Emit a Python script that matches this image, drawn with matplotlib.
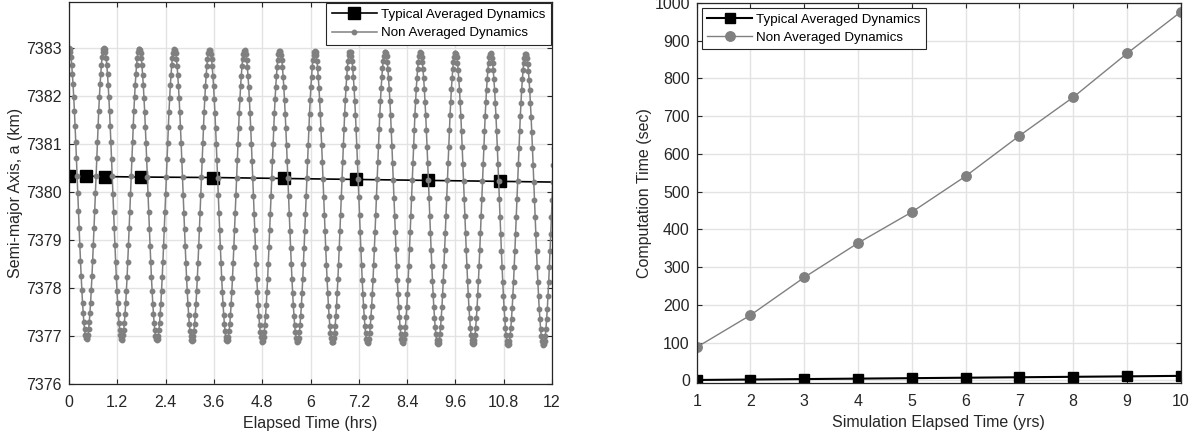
import matplotlib.pyplot as plt
import numpy as np

# MATLAB-like look: Helvetica -> Liberation Sans
plt.rcParams['font.family'] = ['Liberation Sans', 'DejaVu Sans']

# ---- left panel: semi-major axis over 12 hours ----
# non averaged (osculating) samples, one every ~60 s, one row per oscillation
step_hrs = 0.016785
a_non_avg = [
    7383.00, 7382.98, 7382.91, 7382.80, 7382.65, 7382.46, 7382.24, 7381.98, 7381.69, 7381.38, 7381.04, 7380.70, 7380.34,
    7379.97, 7379.60, 7379.25, 7378.90, 7378.56, 7378.25, 7377.96, 7377.70, 7377.48, 7377.29, 7377.14, 7377.03, 7376.96,
    7376.94, 7376.96, 7377.03, 7377.14, 7377.29, 7377.48, 7377.70, 7377.96, 7378.25, 7378.56, 7378.90, 7379.25, 7379.60,
    7379.97, 7380.34, 7380.70, 7381.04, 7381.38, 7381.69, 7381.98, 7382.24, 7382.46, 7382.65, 7382.80, 7382.91, 7382.98,
    7382.99, 7382.97, 7382.90, 7382.79, 7382.64, 7382.45, 7382.23, 7381.97, 7381.68, 7381.37, 7381.03, 7380.69, 7380.33,
    7379.96, 7379.59, 7379.24, 7378.89, 7378.55, 7378.24, 7377.95, 7377.69, 7377.47, 7377.28, 7377.13, 7377.02, 7376.95,
    7376.93, 7376.95, 7377.02, 7377.13, 7377.28, 7377.47, 7377.69, 7377.95, 7378.24, 7378.55, 7378.89, 7379.24, 7379.59,
    7379.96, 7380.33, 7380.69, 7381.03, 7381.37, 7381.68, 7381.97, 7382.23, 7382.45, 7382.64, 7382.79, 7382.90, 7382.97,
    7382.98, 7382.96, 7382.89, 7382.78, 7382.63, 7382.44, 7382.22, 7381.96, 7381.67, 7381.36, 7381.02, 7380.68, 7380.32,
    7379.95, 7379.58, 7379.23, 7378.88, 7378.54, 7378.23, 7377.94, 7377.68, 7377.46, 7377.27, 7377.12, 7377.01, 7376.94,
    7376.92, 7376.94, 7377.01, 7377.12, 7377.27, 7377.46, 7377.68, 7377.94, 7378.23, 7378.54, 7378.88, 7379.23, 7379.58,
    7379.95, 7380.32, 7380.68, 7381.02, 7381.36, 7381.67, 7381.96, 7382.22, 7382.44, 7382.63, 7382.78, 7382.89, 7382.96,
    7382.97, 7382.95, 7382.88, 7382.77, 7382.62, 7382.43, 7382.21, 7381.95, 7381.66, 7381.35, 7381.01, 7380.67, 7380.31,
    7379.94, 7379.57, 7379.22, 7378.87, 7378.53, 7378.22, 7377.93, 7377.67, 7377.45, 7377.26, 7377.11, 7377.00, 7376.93,
    7376.91, 7376.93, 7377.00, 7377.11, 7377.26, 7377.45, 7377.67, 7377.93, 7378.22, 7378.53, 7378.87, 7379.22, 7379.57,
    7379.94, 7380.31, 7380.67, 7381.01, 7381.35, 7381.66, 7381.95, 7382.21, 7382.43, 7382.62, 7382.77, 7382.88, 7382.95,
    7382.96, 7382.94, 7382.87, 7382.76, 7382.61, 7382.42, 7382.20, 7381.94, 7381.65, 7381.34, 7381.00, 7380.66, 7380.30,
    7379.93, 7379.56, 7379.21, 7378.86, 7378.52, 7378.21, 7377.92, 7377.66, 7377.44, 7377.25, 7377.10, 7376.99, 7376.92,
    7376.90, 7376.92, 7376.99, 7377.10, 7377.25, 7377.44, 7377.66, 7377.92, 7378.21, 7378.52, 7378.86, 7379.21, 7379.56,
    7379.93, 7380.30, 7380.66, 7381.00, 7381.34, 7381.65, 7381.94, 7382.20, 7382.42, 7382.61, 7382.76, 7382.87, 7382.94,
    7382.95, 7382.93, 7382.86, 7382.75, 7382.60, 7382.41, 7382.19, 7381.93, 7381.64, 7381.33, 7380.99, 7380.65, 7380.29,
    7379.92, 7379.55, 7379.20, 7378.85, 7378.51, 7378.20, 7377.91, 7377.65, 7377.43, 7377.24, 7377.09, 7376.98, 7376.91,
    7376.89, 7376.91, 7376.98, 7377.09, 7377.24, 7377.43, 7377.65, 7377.91, 7378.20, 7378.51, 7378.85, 7379.20, 7379.55,
    7379.92, 7380.29, 7380.65, 7380.99, 7381.33, 7381.64, 7381.93, 7382.19, 7382.41, 7382.60, 7382.75, 7382.86, 7382.93,
    7382.94, 7382.92, 7382.85, 7382.74, 7382.59, 7382.40, 7382.18, 7381.92, 7381.63, 7381.32, 7380.98, 7380.64, 7380.28,
    7379.91, 7379.54, 7379.19, 7378.84, 7378.50, 7378.19, 7377.90, 7377.64, 7377.42, 7377.23, 7377.08, 7376.97, 7376.90,
    7376.88, 7376.90, 7376.97, 7377.08, 7377.23, 7377.42, 7377.64, 7377.90, 7378.19, 7378.50, 7378.84, 7379.19, 7379.54,
    7379.91, 7380.28, 7380.64, 7380.98, 7381.32, 7381.63, 7381.92, 7382.18, 7382.40, 7382.59, 7382.74, 7382.85, 7382.92,
    7382.93, 7382.91, 7382.84, 7382.73, 7382.58, 7382.39, 7382.17, 7381.91, 7381.62, 7381.31, 7380.97, 7380.63, 7380.27,
    7379.90, 7379.53, 7379.18, 7378.83, 7378.49, 7378.18, 7377.89, 7377.63, 7377.41, 7377.22, 7377.07, 7376.96, 7376.89,
    7376.87, 7376.89, 7376.96, 7377.07, 7377.22, 7377.41, 7377.63, 7377.89, 7378.18, 7378.49, 7378.83, 7379.18, 7379.53,
    7379.90, 7380.27, 7380.63, 7380.97, 7381.31, 7381.62, 7381.91, 7382.17, 7382.39, 7382.58, 7382.73, 7382.84, 7382.91,
    7382.92, 7382.90, 7382.83, 7382.72, 7382.57, 7382.38, 7382.16, 7381.90, 7381.61, 7381.30, 7380.96, 7380.62, 7380.26,
    7379.89, 7379.52, 7379.17, 7378.82, 7378.48, 7378.17, 7377.88, 7377.62, 7377.40, 7377.21, 7377.06, 7376.95, 7376.88,
    7376.86, 7376.88, 7376.95, 7377.06, 7377.21, 7377.40, 7377.62, 7377.88, 7378.17, 7378.48, 7378.82, 7379.17, 7379.52,
    7379.89, 7380.26, 7380.62, 7380.96, 7381.30, 7381.61, 7381.90, 7382.16, 7382.38, 7382.57, 7382.72, 7382.83, 7382.90,
    7382.91, 7382.89, 7382.82, 7382.71, 7382.56, 7382.37, 7382.15, 7381.89, 7381.60, 7381.29, 7380.95, 7380.61, 7380.25,
    7379.88, 7379.51, 7379.16, 7378.81, 7378.47, 7378.16, 7377.87, 7377.61, 7377.39, 7377.20, 7377.05, 7376.94, 7376.87,
    7376.85, 7376.87, 7376.94, 7377.05, 7377.20, 7377.39, 7377.61, 7377.87, 7378.16, 7378.47, 7378.81, 7379.16, 7379.51,
    7379.88, 7380.25, 7380.61, 7380.95, 7381.29, 7381.60, 7381.89, 7382.15, 7382.37, 7382.56, 7382.71, 7382.82, 7382.89,
    7382.90, 7382.88, 7382.81, 7382.70, 7382.55, 7382.36, 7382.14, 7381.88, 7381.59, 7381.28, 7380.94, 7380.60, 7380.24,
    7379.87, 7379.50, 7379.15, 7378.80, 7378.46, 7378.15, 7377.86, 7377.60, 7377.38, 7377.19, 7377.04, 7376.93, 7376.86,
    7376.84, 7376.86, 7376.93, 7377.04, 7377.19, 7377.38, 7377.60, 7377.86, 7378.15, 7378.46, 7378.80, 7379.15, 7379.50,
    7379.87, 7380.24, 7380.60, 7380.94, 7381.28, 7381.59, 7381.88, 7382.14, 7382.36, 7382.55, 7382.70, 7382.81, 7382.88,
    7382.89, 7382.87, 7382.80, 7382.69, 7382.54, 7382.35, 7382.13, 7381.87, 7381.58, 7381.27, 7380.93, 7380.59, 7380.23,
    7379.86, 7379.49, 7379.14, 7378.79, 7378.45, 7378.14, 7377.85, 7377.59, 7377.37, 7377.18, 7377.03, 7376.92, 7376.85,
    7376.83, 7376.85, 7376.92, 7377.03, 7377.18, 7377.37, 7377.59, 7377.85, 7378.14, 7378.45, 7378.79, 7379.14, 7379.49,
    7379.86, 7380.23, 7380.59, 7380.93, 7381.27, 7381.58, 7381.87, 7382.13, 7382.35, 7382.54, 7382.69, 7382.80, 7382.87,
    7382.88, 7382.86, 7382.79, 7382.68, 7382.53, 7382.34, 7382.12, 7381.86, 7381.57, 7381.26, 7380.92, 7380.58, 7380.22,
    7379.85, 7379.48, 7379.13, 7378.78, 7378.44, 7378.13, 7377.84, 7377.58, 7377.36, 7377.17, 7377.02, 7376.91, 7376.84,
    7376.82, 7376.84, 7376.91, 7377.02, 7377.17, 7377.36, 7377.58, 7377.84, 7378.13, 7378.44, 7378.78, 7379.13, 7379.48,
    7379.85, 7380.22, 7380.58, 7380.92, 7381.26, 7381.57, 7381.86, 7382.12, 7382.34, 7382.53, 7382.68, 7382.79, 7382.86,
    7382.87, 7382.85, 7382.78, 7382.67, 7382.52, 7382.33, 7382.11, 7381.85, 7381.56, 7381.25, 7380.91, 7380.57, 7380.21,
    7379.84, 7379.47, 7379.12, 7378.77, 7378.43, 7378.12, 7377.83, 7377.57, 7377.35, 7377.16, 7377.01, 7376.90, 7376.83,
    7376.81, 7376.83, 7376.90, 7377.01, 7377.16, 7377.35, 7377.57, 7377.83, 7378.12, 7378.43, 7378.77, 7379.12, 7379.47,
    7379.84, 7380.21, 7380.57, 7380.91, 7381.25, 7381.56,
]
t_avg = [0, 0.42, 0.89, 1.78, 3.57, 5.35, 7.14, 8.93, 10.72, 12.51]
a_avg = [7380.33, 7380.33, 7380.32, 7380.31, 7380.30, 7380.28, 7380.26, 7380.24, 7380.22, 7380.20]

# ---- right panel: computation time vs simulated time ----
sim_years = [1, 2, 3, 4, 5, 6, 7, 8, 9, 10]
cpu_avg = [1.3, 2.5, 3.7, 4.9, 6.1, 7.3, 8.5, 9.7, 10.9, 12.2]
cpu_non_avg = [88, 173, 273, 364, 446, 541, 648, 750, 866, 976]

GRAY = '#808080'
DARK = '#262626'
W, H = 1193, 438


def matlab_style(ax):
    ax.grid(True, color='#e3e3e3', linewidth=1.0)
    ax.set_axisbelow(True)
    for s in ax.spines.values():
        s.set_color(DARK)
        s.set_linewidth(0.9)
    ax.tick_params(direction='in', top=True, right=True, length=3.5, width=0.8,
                   colors=DARK, labelsize=11.5)
    ax.tick_params(axis='x', pad=8)
    ax.tick_params(axis='y', pad=5)


def add_legend(ax, loc, pad):
    leg = ax.legend(loc=loc, fontsize=9.6, fancybox=False, framealpha=1,
                    edgecolor=DARK, borderaxespad=pad, handlelength=3.4,
                    handletextpad=0.3, labelspacing=0.45, borderpad=0.4)
    leg.get_frame().set_linewidth(0.8)


fig = plt.figure(figsize=(W / 100, H / 100), dpi=100)

# left
ax1 = fig.add_axes([69 / W, (H - 384.3) / H, 483 / W, 382.3 / H])
t_osc = np.arange(len(a_non_avg)) * step_hrs
ax1.plot(t_avg, a_avg, '-s', color='black', linewidth=1.2, markersize=9,
         label='Typical Averaged Dynamics')
ax1.plot(t_osc, a_non_avg, '-o', color=GRAY, linewidth=1.1, markersize=3.2,
         label='Non Averaged Dynamics')
ax1.set_xlim(0, 12)
ax1.set_ylim(7376, 7383.95)
ax1.set_xticks([0, 1.2, 2.4, 3.6, 4.8, 6, 7.2, 8.4, 9.6, 10.8, 12])
ax1.set_xticklabels(['0', '1.2', '2.4', '3.6', '4.8', '6', '7.2', '8.4', '9.6', '10.8', '12'])
ax1.set_yticks([7376, 7377, 7378, 7379, 7380, 7381, 7382, 7383])
ax1.set_xlabel('Elapsed Time (hrs)', fontsize=11.5, color=DARK, labelpad=4)
ax1.set_ylabel('Semi-major Axis, a (km)', fontsize=11.5, color=DARK, labelpad=2.5)
matlab_style(ax1)
add_legend(ax1, 'upper right', 0.1)

# right
ax2 = fig.add_axes([696.7 / W, (H - 383.3) / H, 484 / W, 380.4 / H])
ax2.plot(sim_years, cpu_avg, '-s', color='black', linewidth=1.5, markersize=7.5,
         label='Typical Averaged Dynamics')
ax2.plot(sim_years, cpu_non_avg, '-o', color=GRAY, linewidth=1.0, markersize=6.8,
         label='Non Averaged Dynamics')
ax2.set_xlim(1, 10)
ax2.set_ylim(-7.5, 1000)
ax2.set_xticks(sim_years)
ax2.set_yticks(np.arange(0, 1001, 100))
ax2.set_xlabel('Simulation Elapsed Time (yrs)', fontsize=11.5, color=DARK, labelpad=4)
ax2.set_ylabel('Computation Time (sec)', fontsize=11.5, color=DARK, labelpad=1.5)
matlab_style(ax2)
add_legend(ax2, 'upper left', 0.38)

fig.savefig('out.png', dpi=100)
